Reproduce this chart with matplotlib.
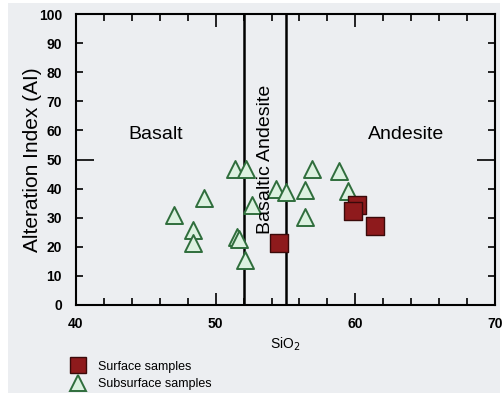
import matplotlib.pyplot as plt
import matplotlib.patches as patches
from matplotlib.ticker import MultipleLocator, FormatStrFormatter

plt.rcParams['font.family'] = ['Liberation Sans', 'DejaVu Sans']

# subsurface samples (triangles)
sub_sio2 = [47.0, 48.4, 48.4, 49.2, 51.4, 52.2, 52.6, 51.5, 51.7, 52.1,
            54.3, 55.0, 56.9, 58.8, 56.4, 59.5, 56.4]
sub_ai = [31, 25.8, 21.2, 36.7, 46.6, 46.6, 34.4, 23.5, 22.6, 15.5,
          39.8, 38.9, 46.6, 46.1, 39.5, 39.3, 30.3]

# surface samples (squares)
surf_sio2 = [54.5, 60.1, 59.85, 61.4]
surf_ai = [21.2, 34.4, 32.3, 27.3]

boundaries = [52, 55]

bg = '#eceef1'
fig = plt.figure(figsize=(5.04, 3.96), dpi=100, facecolor='white')
fig.patches.append(patches.Rectangle((8 / 504, 3 / 396), 492 / 504, 390 / 396,
                                     transform=fig.transFigure, facecolor=bg,
                                     edgecolor='none', zorder=-10))
ax = fig.add_axes([76 / 504, (396 - 305) / 396, 419 / 504, 291 / 396])
ax.set_facecolor(bg)

ax.scatter(sub_sio2, sub_ai, marker='^', s=150, facecolor='#dcf1e0',
           edgecolor='#2f6d3c', linewidth=1.4, zorder=3)
ax.scatter(surf_sio2, surf_ai, marker='s', s=150, facecolor='#8e1a1c',
           edgecolor='#3a0a0a', linewidth=1.0, zorder=4)

for b in boundaries:
    ax.axvline(b, color='black', lw=1.8, zorder=2)

ax.text(45.7, 58.6, 'Basalt', fontsize=14, ha='center', va='center')
ax.text(63.6, 58.6, 'Andesite', fontsize=14, ha='center', va='center')
ax.text(53.55, 50, 'Basaltic Andesite', fontsize=14, rotation=90,
        ha='center', va='center')

ax.set_xlim(40, 70)
ax.set_ylim(0, 100)
ax.xaxis.set_major_locator(MultipleLocator(10))
ax.xaxis.set_minor_locator(MultipleLocator(2))
ax.yaxis.set_major_locator(MultipleLocator(50))
ax.yaxis.set_minor_locator(MultipleLocator(10))
ax.yaxis.set_minor_formatter(FormatStrFormatter('%d'))

ax.tick_params(which='both', direction='in', top=True, right=True, width=1.2)
ax.tick_params(axis='x', which='major', length=9)
ax.tick_params(axis='x', which='minor', length=5)
ax.tick_params(axis='y', which='major', length=13)
ax.tick_params(axis='y', which='minor', length=5)
ax.tick_params(axis='both', which='both', labelsize=10)
for lab in ax.get_xticklabels() + ax.get_yticklabels() + \
        ax.get_yticklabels(minor=True):
    lab.set_fontweight('bold')
ax.tick_params(axis='x', pad=9)
ax.tick_params(axis='y', which='both', pad=10)

for s in ax.spines.values():
    s.set_linewidth(1.5)

ax.set_ylabel('Alteration Index (AI)', fontsize=15, labelpad=-2)
ax.set_xlabel('SiO$_2$', fontsize=10, labelpad=3)

# legend drawn below the axes
fig.legend(handles=[
    plt.Line2D([], [], marker='s', ls='', markersize=11, markerfacecolor='#8e1a1c',
               markeredgecolor='#3a0a0a', label='Surface samples'),
    plt.Line2D([], [], marker='^', ls='', markersize=11, markerfacecolor='#dcf1e0',
               markeredgecolor='#2f6d3c', markeredgewidth=1.4, label='Subsurface samples'),
], loc='upper left', bbox_to_anchor=(62 / 504, 1 - 352 / 396), frameon=False,
    fontsize=9, handletextpad=1.0, labelspacing=0.45, handlelength=1.2,
    borderpad=0.2)

fig.savefig('out.png', dpi=100, facecolor=fig.get_facecolor())
